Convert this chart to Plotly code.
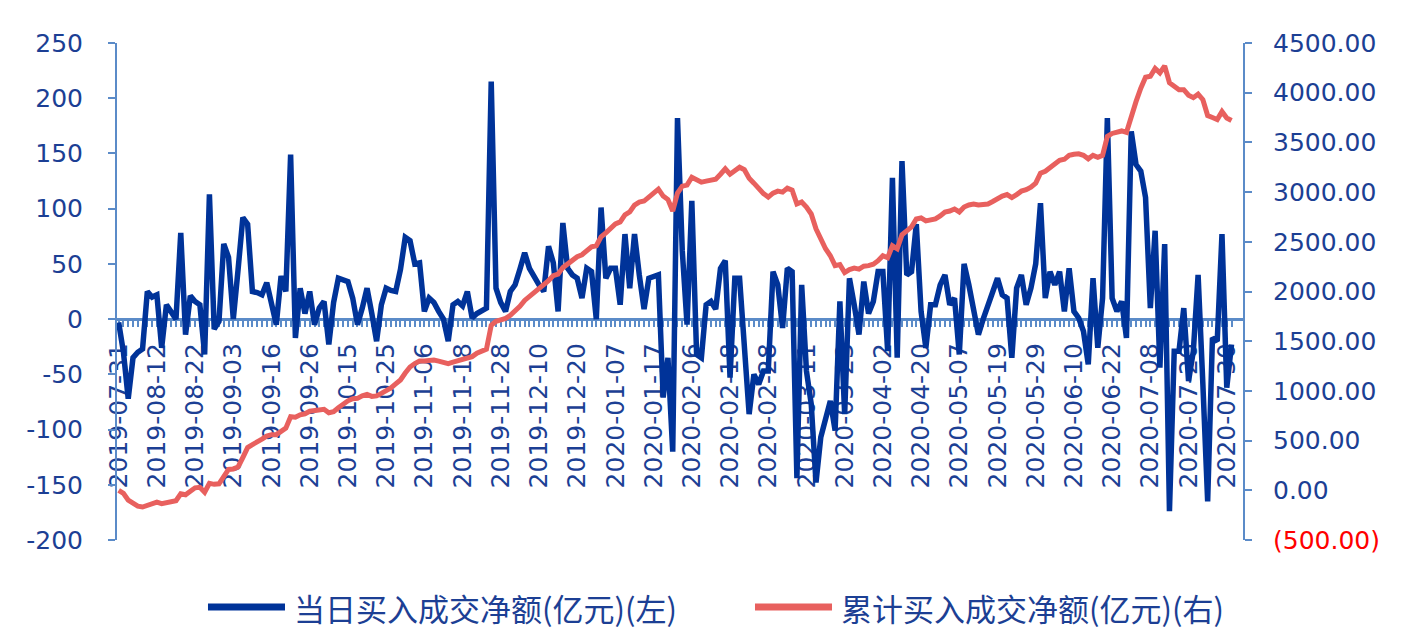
import pandas as pd
import plotly.graph_objects as go

# ---------------- data ----------------
start_date = "2019-07-31"
end_date = "2020-07-31"
closed_days = [
    "2019-09-13", "2019-10-01", "2019-10-02", "2019-10-03", "2019-10-04", "2019-10-07",
    "2019-12-24", "2019-12-25", "2019-12-26", "2020-01-01", "2020-01-24", "2020-01-27",
    "2020-01-28", "2020-01-29", "2020-01-30", "2020-01-31", "2020-04-06", "2020-04-09",
    "2020-04-10", "2020-04-13", "2020-04-29", "2020-04-30", "2020-05-01", "2020-05-04",
    "2020-05-05", "2020-06-25", "2020-06-26", "2020-06-30", "2020-07-01",
]
dates = [d.strftime("%Y-%m-%d") for d in pd.bdate_range(start_date, end_date)
         if d.strftime("%Y-%m-%d") not in closed_days]

daily_net = [
    -3, -30, -72, -35, -30, -27, 25, 20, 22, -26,
    13, 7, 0, 78, -14, 21, 16, 13, -32, 113,
    -9, -2, 68, 56, 0, 45, 92, 86, 25, 24,
    22, 33, 15, -5, 39, 25, 149, -17, 28, 5,
    25, -5, 10, 16, -23, 15, 37, 35, 34, 19,
    -5, 10, 28, 5, -20, 13, 28, 26, 25, 45,
    74, 71, 50, 51, 7, 19, 15, 7, 0, -20,
    13, 16, 12, 25, 1, 5, 7, 10, 215, 28,
    15, 7, 25, 31, 45, 60, 46, 38, 31, 25,
    66, 51, 7, 87, 46, 40, 37, 19, 46, 43,
    0, 101, 37, 46, 46, 13, 77, 28, 77, 40,
    9, 37, 38, 40, -71, -35, -120, 182, 62, -5,
    107, -32, -35, 13, 16, 9, 46, 53, -53, 37,
    37, -20, -86, -50, -59, -47, -47, 43, 31, -8,
    46, 43, -144, 31, -47, -77, -148, -107, -90, -74,
    -101, 16, -86, 37, 13, -14, 34, 5, 16, 43,
    43, -29, 128, -35, 143, 40, 43, 86, 7, -26,
    13, 13, 31, 40, 13, 19, -32, 50, 31, 7,
    -14, 0, 13, 25, 37, 22, 19, -35, 28, 40,
    13, 28, 50, 105, 19, 43, 31, 43, 7, 46,
    7, 1, -11, -41, 37, -26, 19, 182, 19, 7,
    16, -17, 170, 140, 134, 110, 10, 80, -44, 68,
    -174, -29, -29, 10, -56, -29, 40, -59, -165, -17,
    -20, 77, -62, -23,
]

cumulative_net = [
    0, -30, -100, -135, -160, -168, -150, -128, -118, -134,
    -125, -115, -105, -35, -45, -10, 25, 30, -20, 70,
    60, 65, 140, 210, 215, 235, 330, 430, 460, 495,
    515, 545, 560, 560, 600, 625, 740, 735, 760, 770,
    795, 800, 805, 815, 780, 790, 830, 870, 900, 922,
    925, 950, 965, 945, 950, 975, 1000, 1030, 1070, 1110,
    1180, 1240, 1275, 1300, 1300, 1310, 1310, 1300, 1290, 1275,
    1290, 1305, 1320, 1340, 1345, 1380, 1400, 1420, 1660, 1700,
    1715, 1730, 1760, 1800, 1850, 1910, 1950, 1990, 2030, 2060,
    2110, 2160, 2175, 2240, 2280, 2320, 2350, 2370, 2410, 2450,
    2460, 2550, 2590, 2640, 2680, 2700, 2770, 2800, 2870, 2900,
    2910, 2950, 2990, 3030, 2960, 2925, 2810, 2990, 3060, 3070,
    3150, 3120, 3100, 3110, 3120, 3130, 3180, 3235, 3180, 3215,
    3250, 3225, 3140, 3090, 3030, 2985, 2950, 2990, 3010, 3000,
    3040, 3020, 2880, 2900, 2850, 2780, 2630, 2520, 2430, 2360,
    2260, 2270, 2190, 2220, 2235, 2225, 2255, 2260, 2275, 2310,
    2360, 2340, 2460, 2430, 2570, 2610, 2650, 2730, 2740, 2710,
    2720, 2730, 2760, 2800, 2810, 2830, 2800, 2850, 2870, 2880,
    2870, 2870, 2880, 2905, 2940, 2960, 2975, 2945, 2975, 3010,
    3025, 3050, 3090, 3190, 3210, 3250, 3280, 3320, 3330, 3370,
    3380, 3385, 3370, 3335, 3370, 3350, 3370, 3560, 3590, 3600,
    3615, 3600, 3770, 3910, 4045, 4155, 4165, 4245, 4200, 4270,
    4100, 4060, 4030, 4030, 3975, 3950, 3985, 3930, 3770, 3750,
    3730, 3810, 3745, 3720,
]

n = min(len(dates), len(daily_net), len(cumulative_net))
dates = dates[:n]
daily_net = daily_net[:n]
cumulative_net = cumulative_net[:n]

left_ticks = list(range(-200, 251, 50))
right_ticks = list(range(-500, 4501, 500))
label_step = 8

name_daily = "当日买入成交净额(亿元)(左)"
name_cum = "累计买入成交净额(亿元)(右)"

# ---------------- style ----------------
BLUE = "#003399"
RED = "#E8605E"
AXIS = "#5B8BC8"
TXT = "#1C3F94"
NUM_FONT = "DejaVu Sans, Liberation Sans, Arial"
TICK_FONT = dict(family=NUM_FONT, size=25, color=TXT)
LEG_FONT = dict(family="Noto Sans CJK SC", size=31, color=TXT)

x_ticktext = [d if i % label_step == 0 else "" for i, d in enumerate(dates)]
right_text = [
    f"<span style='color:#FF0000'>({abs(v):.2f})</span>" if v < 0 else f"{v:.2f}"
    for v in right_ticks
]

fig = go.Figure()
fig.add_trace(go.Scatter(
    x=dates, y=daily_net, mode="lines", name=name_daily,
    line=dict(color=BLUE, width=5.5), yaxis="y", showlegend=False,
))
fig.add_trace(go.Scatter(
    x=dates, y=cumulative_net, mode="lines", name=name_cum,
    line=dict(color=RED, width=5), yaxis="y2", showlegend=False,
))

zero_pos = (0 - left_ticks[0]) / (left_ticks[-1] - left_ticks[0])

# legend drawn as line samples + text (paper coordinates)
leg_y = -0.135
legend_items = [
    (0.0808, 0.1492, 0.1554, BLUE, name_daily),
    (0.5666, 0.6350, 0.6412, RED, name_cum),
]
shapes = []
annotations = []
for x0, x1, xt, col, label in legend_items:
    shapes.append(dict(type="line", xref="paper", yref="paper", x0=x0, x1=x1,
                       y0=leg_y, y1=leg_y, line=dict(color=col, width=7)))
    annotations.append(dict(xref="paper", yref="paper", x=xt, y=leg_y, text=label,
                            showarrow=False, xanchor="left", yanchor="middle",
                            font=LEG_FONT))

# the page body adds an 8px offset; size the figure so it ends at the window edge
fig.update_layout(
    width=1393, height=634,
    margin=dict(l=109, r=158, t=35, b=102, autoexpand=False),
    paper_bgcolor="white", plot_bgcolor="white",
    showlegend=False,
    shapes=shapes,
    annotations=annotations,
    xaxis=dict(
        type="category", range=[-0.35, 235.4], automargin=False,
        anchor="free", position=zero_pos,
        showline=True, linecolor=AXIS, linewidth=3,
        ticks="outside", ticklen=6, tickwidth=2, tickcolor=AXIS,
        tickmode="array", tickvals=dates, ticktext=x_ticktext,
        tickangle=-90, tickfont=dict(family=NUM_FONT, size=25, color=TXT),
        ticklabelstandoff=6,
        showgrid=False, zeroline=False, layer="below traces",
    ),
    yaxis=dict(
        range=[left_ticks[0], left_ticks[-1]], tickmode="array", tickvals=left_ticks,
        ticktext=[str(v) for v in left_ticks], automargin=False,
        showline=True, linecolor=AXIS, linewidth=2,
        ticks="outside", ticklen=7, tickwidth=2, tickcolor=AXIS,
        tickfont=TICK_FONT, ticklabelstandoff=20,
        showgrid=False, zeroline=False,
    ),
    yaxis2=dict(
        range=[right_ticks[0], right_ticks[-1]], overlaying="y", side="right",
        tickmode="array", tickvals=right_ticks, ticktext=right_text, automargin=False,
        showline=True, linecolor=AXIS, linewidth=2,
        ticks="outside", ticklen=7, tickwidth=2, tickcolor=AXIS,
        tickfont=TICK_FONT, ticklabelstandoff=16,
        showgrid=False, zeroline=False,
    ),
)

fig.write_html("out.html")
